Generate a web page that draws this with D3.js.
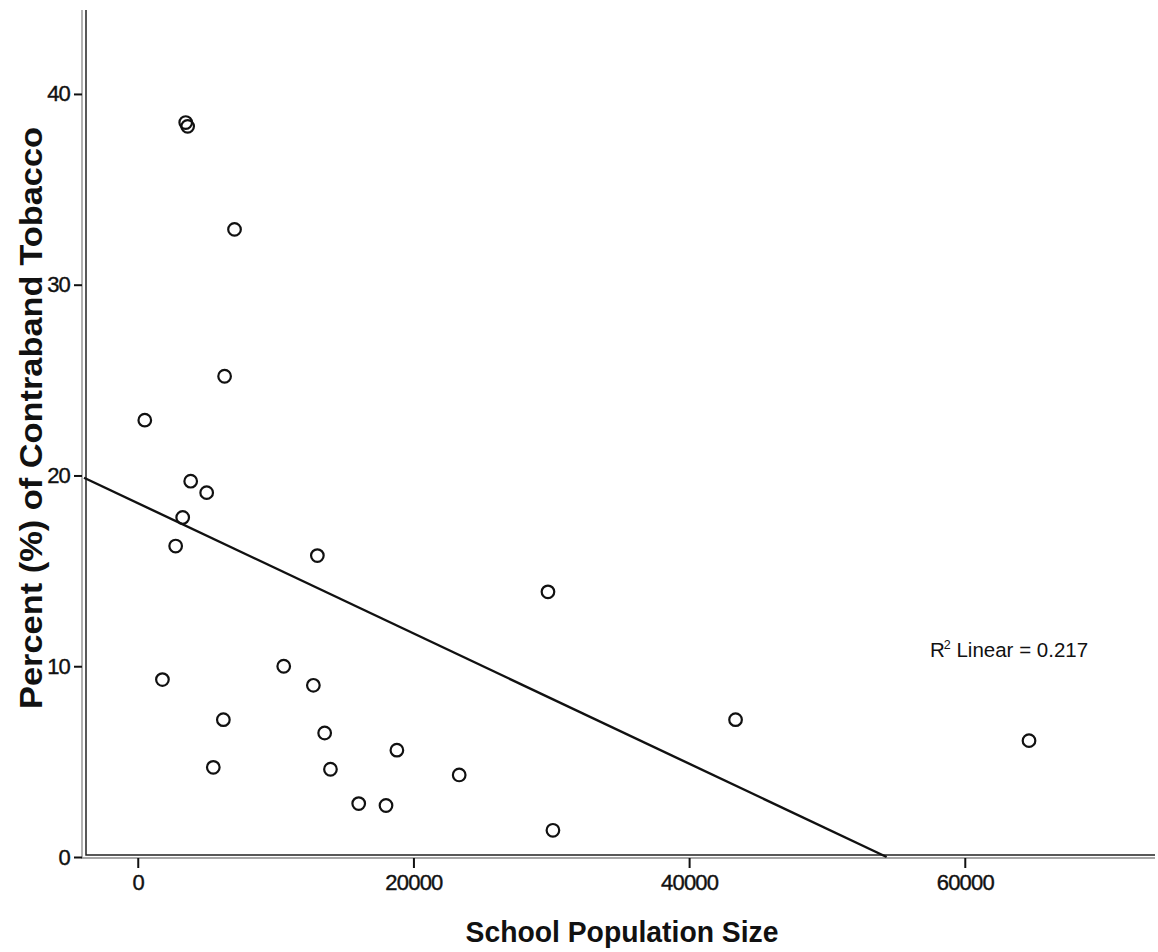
<!DOCTYPE html>
<html><head><meta charset="utf-8">
<script src="https://cdn.jsdelivr.net/npm/d3@7"></script>
<style>body{margin:0;background:#fff}svg{display:block}</style>
</head><body>
<svg id="chart" width="1158" height="952"></svg>
<script>
// ---- data ----
const schoolPopulation = [3480, 3620, 7020, 6300, 510, 3840, 5000, 3260, 2750, 13030, 29760,
  1790, 10590, 12740, 6210, 13560, 5480, 13980, 18800, 23320, 16030, 18010, 30120, 43370, 64660];
const contrabandPercent = [38.5, 38.3, 32.9, 25.2, 22.9, 19.7, 19.1, 17.8, 16.3, 15.8, 13.9,
  9.3, 10.0, 9.0, 7.2, 6.5, 4.7, 4.6, 5.6, 4.3, 2.8, 2.7, 1.4, 7.2, 6.1];
const xTicks = [0, 20000, 40000, 60000];
const yTicks = [0, 10, 20, 30, 40];
const xTitle = "School Population Size";
const yTitle = "Percent (%) of Contraband Tobacco";
const fitLabelR = "R";
const fitLabelSup = "2";
const fitLabelRest = " Linear = 0.217";

// ---- layout ----
const svg = d3.select("#chart");
const x = d3.scaleLinear().domain([-3900, 73800]).range([84, 1155]);
const y = d3.scaleLinear().domain([0, 44.4]).range([857, 10]);
const FONT = "'Liberation Sans', Arial, Helvetica, sans-serif";

const points = schoolPopulation.map((v, i) => ({x: v, y: contrabandPercent[i]}));

// frame lines (double line look)
const [x0, x1] = x.range();
const [yb, yt] = y.range();
svg.append("path")
  .attr("d", `M${x0 - 2},${yt} V${yb + 1} H${x1}`)
  .attr("fill", "none").attr("stroke", "#8a8a8a").attr("stroke-width", 1.3);
svg.append("path")
  .attr("d", `M${x0 + 2},${yt} V${yb - 2} H${x1}`)
  .attr("fill", "none").attr("stroke", "#222").attr("stroke-width", 1.5);

// axes
const gx = svg.append("g")
  .attr("transform", `translate(0,${yb + 1})`)
  .call(d3.axisBottom(x).tickValues(xTicks).tickSize(10).tickPadding(6).tickFormat(d3.format("d")));
gx.select(".domain").remove();
gx.attr("font-family", FONT).attr("font-size", 22);
gx.selectAll(".tick line").attr("stroke", "#111").attr("stroke-width", 2);
gx.selectAll(".tick text").attr("fill", "#111").attr("stroke", "#111").attr("stroke-width", 0.4).attr("letter-spacing", -0.8);

const gy = svg.append("g")
  .attr("transform", `translate(${x0 - 2},0)`)
  .call(d3.axisLeft(y).tickValues(yTicks).tickSize(8).tickPadding(4).tickFormat(d3.format("d")));
gy.select(".domain").remove();
gy.attr("font-family", FONT).attr("font-size", 22);
gy.selectAll(".tick line").attr("stroke", "#111").attr("stroke-width", 2);
gy.selectAll(".tick text").attr("fill", "#111").attr("stroke", "#111").attr("stroke-width", 0.4).attr("letter-spacing", -0.8);

// linear fit computed from the data
const mx = d3.mean(points, d => d.x), my = d3.mean(points, d => d.y);
const sxy = d3.sum(points, d => (d.x - mx) * (d.y - my));
const sxx = d3.sum(points, d => (d.x - mx) ** 2);
const slope = sxy / sxx, intercept = my - slope * mx;
const xStart = x.domain()[0];
const xEnd = Math.min(x.domain()[1], -intercept / slope);
svg.append("line")
  .attr("x1", x(xStart)).attr("y1", y(intercept + slope * xStart))
  .attr("x2", x(xEnd)).attr("y2", y(intercept + slope * xEnd))
  .attr("stroke", "#111").attr("stroke-width", 2.4);

// points
svg.append("g").selectAll("circle").data(points).join("circle")
  .attr("cx", d => x(d.x)).attr("cy", d => y(d.y)).attr("r", 6.3)
  .attr("fill", "none").attr("stroke", "#111").attr("stroke-width", 2.2);

// fit label
const lab = svg.append("text")
  .attr("x", 930).attr("y", 657)
  .attr("font-family", FONT).attr("font-size", 20.5).attr("fill", "#111");
lab.append("tspan").text(fitLabelR);
lab.append("tspan").attr("font-size", 12.5).attr("dy", -8).attr("dx", -1).text(fitLabelSup);
lab.append("tspan").attr("dy", 8).text(fitLabelRest);

// axis titles
svg.append("text")
  .attr("x", 622).attr("y", 942)
  .attr("text-anchor", "middle")
  .attr("font-family", FONT).attr("font-weight", "bold").attr("font-size", 30)
  .attr("textLength", 313).attr("lengthAdjust", "spacingAndGlyphs")
  .attr("fill", "#111").text(xTitle);

svg.append("text")
  .attr("transform", "translate(42,418) rotate(-90)")
  .attr("text-anchor", "middle")
  .attr("font-family", FONT).attr("font-weight", "bold").attr("font-size", 32)
  .attr("textLength", 582).attr("lengthAdjust", "spacingAndGlyphs")
  .attr("fill", "#111").text(yTitle);
</script>
</body></html>
